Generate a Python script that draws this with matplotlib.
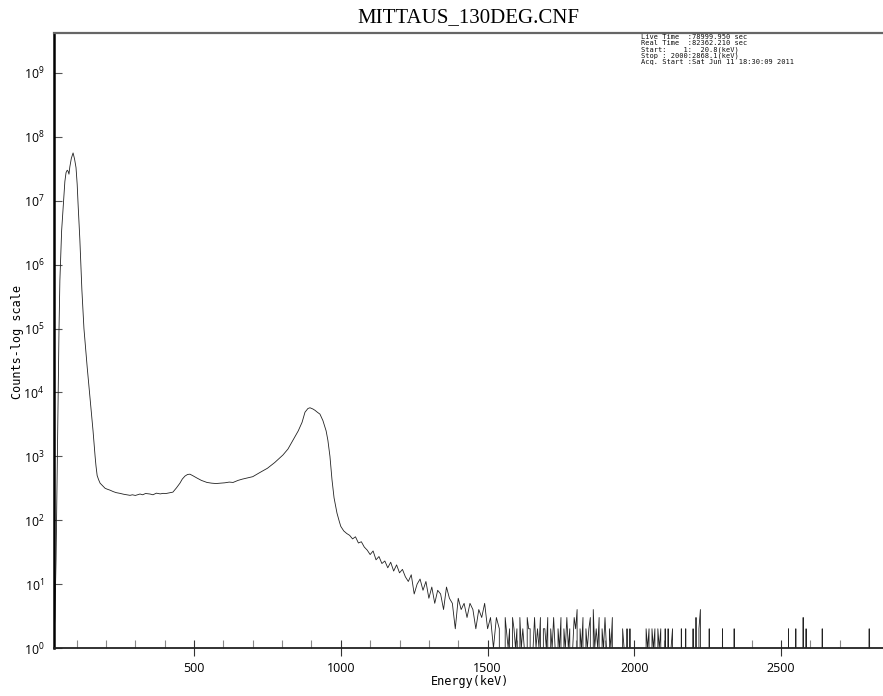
import math
import matplotlib
matplotlib.use("Agg")
import matplotlib.pyplot as plt
from matplotlib.ticker import FixedLocator, FuncFormatter, NullFormatter

plt.rcParams['mathtext.fontset'] = 'custom'
plt.rcParams['mathtext.rm'] = 'Open Sans'
plt.rcParams['mathtext.it'] = 'Open Sans'
plt.rcParams['mathtext.bf'] = 'Open Sans'

# ---------------- text ----------------
title = "MITTAUS_130DEG.CNF"
x_label = "Energy(keV)"
y_label = "Counts-log scale"
info_lines = [
    "Live Time  :78999.950 sec",
    "Real Time  :82362.210 sec",
    "Start:    1:  20.8(keV)",
    "Stop : 2000:2868.1(keV)",
    "Acq. Start :Sat Jun 11 18:30:09 2011",
]

# ---------------- data ----------------
# low-energy peak, continuum, Compton bump and 900 keV peak (keV, counts)
energy_peak = [21, 26, 30, 33, 37, 40, 43, 49, 54, 60, 64, 68, 71, 74, 77, 82, 88, 93, 98,
               102, 105, 111, 118, 125, 136, 146, 156, 163, 166, 170, 175, 180, 190, 197,
               205, 214, 225, 235, 248, 260, 270, 282, 290, 300, 316, 325, 335, 350, 360,
               372, 385, 394, 405, 415, 428, 440, 452, 460, 469, 478, 486, 495, 510, 525,
               544, 560, 575, 589, 605, 620, 633, 650, 665, 681, 700, 725, 750, 775, 803,
               820, 837, 855, 868, 878, 888, 895, 905, 912, 920, 929, 939, 950, 956, 963,
               970, 977, 987, 995]
counts_peak = [1, 3, 24, 330, 7900, 93000, 5.6e5, 3.4e6, 7.8e6, 2.0e7, 2.75e7, 3.0e7, 2.9e7,
               2.6e7, 3.4e7, 4.6e7, 5.6e7, 4.5e7, 3.3e7, 1.8e7, 8.9e6, 2.5e6, 4.0e5, 1.0e5,
               2.5e4, 7900, 2500, 1000, 710, 500, 430, 380, 340, 316, 305, 295, 280, 270,
               263, 255, 250, 245, 250, 244, 257, 250, 262, 257, 250, 265, 258, 263, 262,
               268, 275, 320, 380, 440, 490, 520, 525, 500, 457, 420, 390, 380, 375, 380,
               385, 395, 390, 420, 440, 457, 480, 560, 650, 800, 1050, 1300, 1780, 2500,
               3400, 4900, 5600, 5750, 5500, 5250, 4900, 4570, 3630, 2500, 1780, 1000, 430,
               224, 129, 95]

# tail above the peak (keV, counts)
energy_cont = list(range(1000, 1570, 10))
counts_cont = [80, 68, 62, 58, 51, 55, 44, 46, 38, 34, 29, 33, 24, 27, 21, 23, 18, 22, 16, 20,
               15, 17, 13, 11, 14, 7, 10, 12, 8, 11, 6, 9, 5, 8, 7, 4, 9, 6, 5, 2,
               6, 4, 5, 3, 5, 4, 2, 4, 3, 5, 2, 3, 1, 3, 2, 0, 3]

energy_tail = list(range(1570, 2870, 5))
counts_tail = [
    1, 2, 0, 3, 2, 1, 2, 0, 3, 1, 2, 1, 0, 3, 2, 2, 0, 1, 3, 1,
    2, 1, 3, 0, 2, 2, 1, 3, 0, 2, 1, 3, 1, 0, 2, 1, 3, 0, 2, 1,
    3, 1, 2, 0, 1, 3, 2, 4, 0, 2, 1, 3, 0, 2, 1, 2, 3, 0, 4, 1,
    2, 1, 3, 0, 2, 1, 3, 1, 0, 2, 1, 3, 0, 0, 0, 1, 0, 0, 2, 1,
    0, 2, 0, 2, 0, 0, 0, 0, 0, 1, 0, 0, 0, 0, 2, 1, 2, 0, 2, 1,
    2, 0, 2, 1, 2, 0, 0, 2, 0, 2, 0, 1, 2, 0, 0, 0, 0, 0, 2, 0,
    0, 2, 0, 0, 0, 0, 2, 0, 3, 0, 2, 4, 0, 0, 0, 0, 0, 2, 0, 0,
    0, 0, 0, 0, 0, 0, 2, 0, 0, 0, 0, 0, 0, 0, 2, 0, 0, 0, 0, 0,
    0, 0, 0, 0, 0, 1, 0, 0, 0, 0, 0, 0, 0, 0, 0, 0, 0, 0, 0, 0,
    0, 0, 0, 0, 0, 0, 0, 0, 0, 0, 0, 2, 0, 0, 1, 0, 2, 0, 0, 0,
    0, 3, 0, 2, 0, 0, 0, 0, 0, 0, 0, 0, 0, 0, 2, 0, 0, 0, 0, 0,
    0, 0, 0, 0, 0, 1, 0, 0, 0, 0, 0, 0, 0, 0, 0, 0, 0, 0, 0, 0,
    0, 0, 0, 0, 0, 0, 2, 0, 0, 0, 0, 0, 0, 0, 0, 0, 0, 0, 0, 0,
]

x_major = [500, 1000, 1500, 2000, 2500]
x_minor = [100, 200, 300, 400, 600, 700, 800, 900, 1100, 1200, 1300, 1400, 1600, 1700,
           1800, 1900, 2100, 2200, 2300, 2400, 2600, 2700, 2800]
y_decades = [0, 1, 2, 3, 4, 5, 6, 7, 8, 9]

# ---------------- figure ----------------
W, H = 883, 696
fig = plt.figure(figsize=(W / 100, H / 100), dpi=100)
ax = fig.add_axes([54 / W, 48 / H, 829 / W, 615 / H])

energy = energy_peak + energy_cont + energy_tail
counts = counts_peak + counts_cont + counts_tail
ax.plot(energy, counts, color='#222222', lw=0.6)

ax.set_yscale('log')
ax.set_ylim(1, 10 ** 9.625)
ax.set_xlim(23, 2847)

ax.spines['right'].set_visible(False)
ax.spines['left'].set_linewidth(1.8)
ax.spines['left'].set_color('black')
ax.spines['bottom'].set_linewidth(1.3)
ax.spines['bottom'].set_color('#222222')
ax.spines['top'].set_linewidth(1.6)
ax.spines['top'].set_color('#666666')

ax.xaxis.set_major_locator(FixedLocator(x_major))
ax.xaxis.set_minor_locator(FixedLocator(x_minor))
ax.xaxis.set_minor_formatter(NullFormatter())
ax.set_xticklabels([str(v) for v in x_major], fontfamily='Open Sans', fontsize=9)

ax.yaxis.set_major_locator(FixedLocator([10 ** k for k in y_decades]))
ax.yaxis.set_minor_locator(FixedLocator([]))
ax.yaxis.set_major_formatter(FuncFormatter(lambda v, p: "$10^{%d}$" % round(math.log10(v))))

ax.tick_params(axis='x', which='major', direction='inout', length=11.5, width=0.8,
               color='#333333', pad=4, labelsize=9)
ax.tick_params(axis='x', which='minor', direction='in', length=5.8, width=0.8,
               color='#888888')
ax.tick_params(axis='y', which='major', direction='in', length=6, width=0.8,
               color='#555555', pad=7, labelsize=8.8)

fig.text(468 / W, 1 - 18 / H, title, ha='center', va='center',
         fontfamily='Liberation Serif', fontsize=15)
fig.text(470 / W, 1 - 682 / H, x_label, ha='center', va='center',
         fontfamily='DejaVu Sans Mono', fontsize=8.5)
fig.text(18 / W, 1 - 342 / H, y_label, ha='center', va='center', rotation=90,
         fontfamily='DejaVu Sans Mono', fontsize=8.5)

for i, line in enumerate(info_lines):
    fig.text(641 / W, 1 - (37 + 6.3 * i) / H, line, ha='left', va='center',
             fontfamily='DejaVu Sans Mono', fontsize=5.0, color='#111111')

fig.savefig('out.png', dpi=100)
